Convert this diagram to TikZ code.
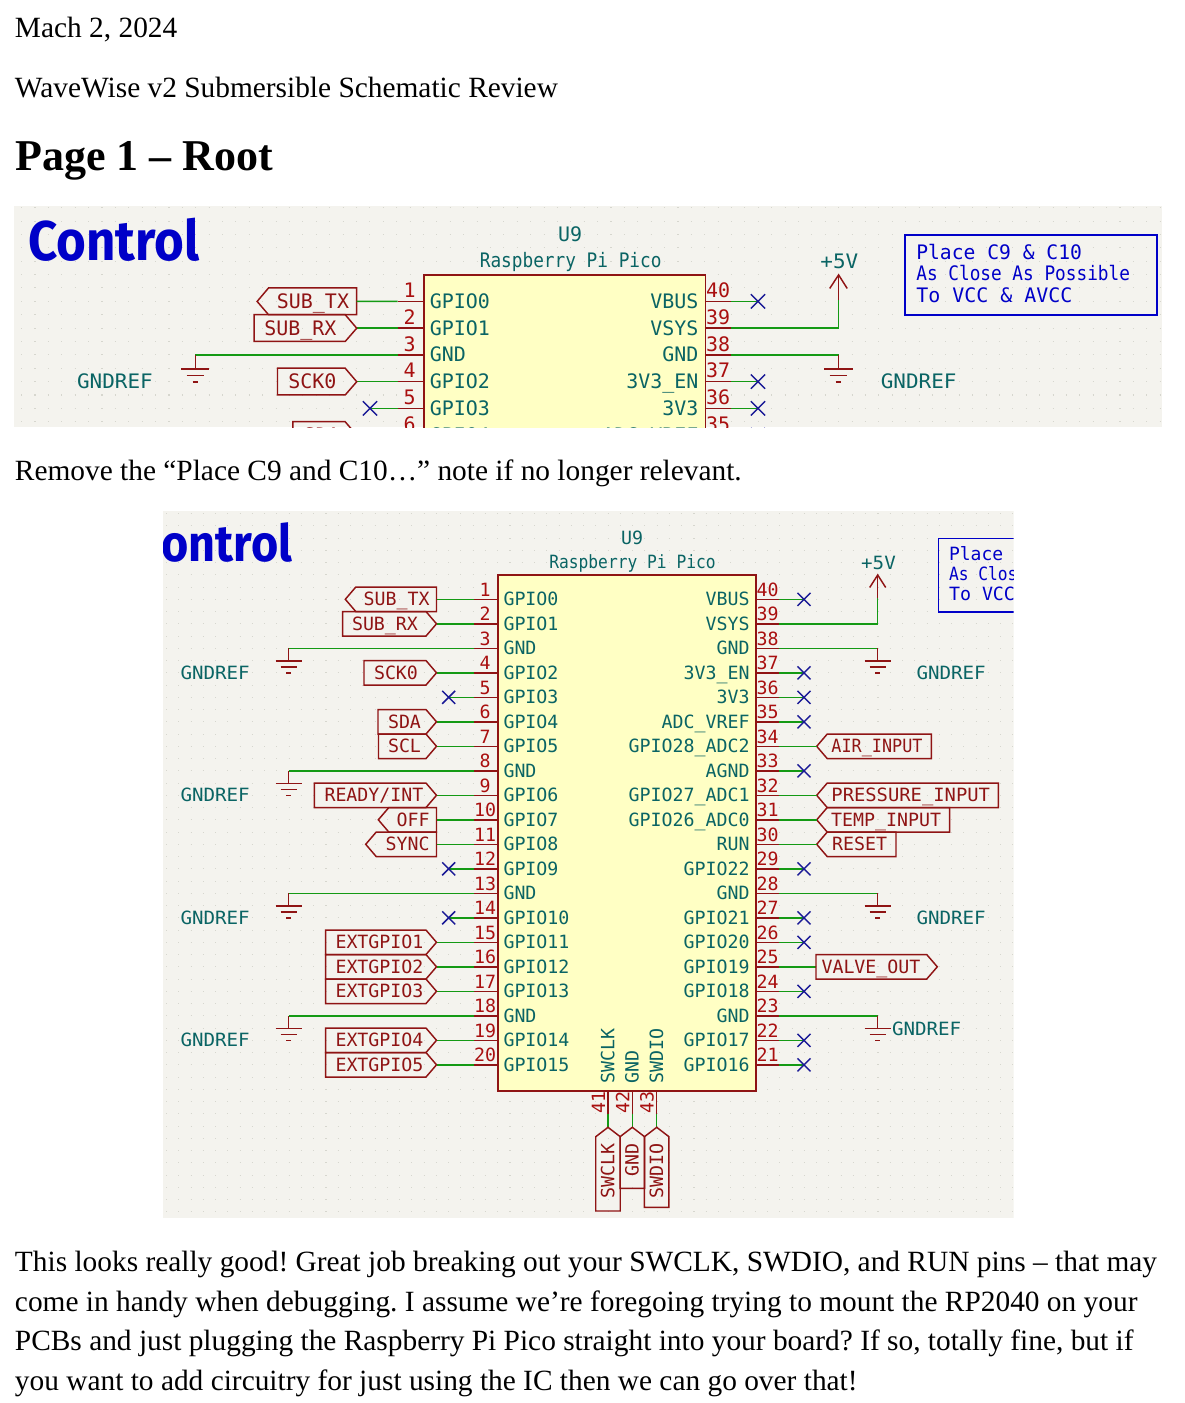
\documentclass[tikz,border=0pt]{standalone}
\usepackage{fontspec}
\usepackage{graphicx}
\setmainfont{Liberation Serif}
\newfontfamily\kifont{DejaVu Sans Mono}
\newfontfamily\ctlfont{Fira Sans}
\frenchspacing
\definecolor{panelbg}{HTML}{F4F3EE}
\definecolor{griddot}{HTML}{D6D6CE}
\definecolor{wirecol}{HTML}{149A14}
\definecolor{pincol}{HTML}{8F1414}
\definecolor{numcol}{HTML}{A90F0F}
\definecolor{namecol}{HTML}{0A6464}
\definecolor{boxfill}{HTML}{FFFFC4}
\definecolor{ncol}{HTML}{1A1A96}
\definecolor{notecol}{HTML}{0000C8}
\tikzset{
 x=0.75pt,y=-0.75pt,
 wirel/.style={draw=wirecol,line width=1.15pt},
 pinl/.style={draw=pincol,line width=1.1pt},
 sigl/.style={draw=pincol,line width=1.1pt,line join=miter},
 ncl/.style={draw=ncol,line width=1.1pt},
 kitext/.style={font=\kifont\fontsize{13.7pt}{16pt}\selectfont,inner sep=0pt,outer sep=0pt},
 pinnum/.style={kitext,text=numcol,anchor=base},
 pinname/.style={kitext,text=namecol},
 sigtext/.style={kitext,text=pincol},
 bodytext/.style={font=\fontsize{22.03pt}{26pt}\selectfont,anchor=base west,inner sep=0pt,text=black},
}
\newcommand\setY[1]{\pgfmathsetmacro\Y{599.3+24.5*(#1-1)}}
% left pin: number, row, name
\newcommand\pinLeft[3]{\setY{#2}
 \coordinate (\pfx p#1) at (497.3,\Y);
 \coordinate (\pfx q#1) at (474,\Y);
 \draw[pinl] (\pfx p#1) -- (\pfx q#1);
 \node[pinnum] (\pfx n#1) at (485,{\Y-3.3}) {#1};
 \node[pinname,anchor=base west] (\pfx t#1) at (503.5,{\Y+6.4}) {#3};}
\newcommand\pinRight[3]{\setY{#2}
 \coordinate (\pfx p#1) at (755.3,\Y);
 \coordinate (\pfx q#1) at (779,\Y);
 \draw[pinl] (\pfx p#1) -- (\pfx q#1);
 \node[pinnum] (\pfx n#1) at (767.5,{\Y-3.3}) {#1};
 \node[pinname,anchor=base east] (\pfx t#1) at (749.5,{\Y+6.4}) {#3};}
% no-connect: pin number, row, x
\newcommand\noconn[3]{\setY{#2}
 \coordinate (\pfx x#1) at (#3,\Y);
 \draw[wirel] (\pfx q#1) -- (\pfx x#1);
 \draw[ncl] (#3-6.5,\Y-6.5) -- (#3+6.5,\Y+6.5) (#3-6.5,\Y+6.5) -- (#3+6.5,\Y-6.5);}
% ground: pin number, row, x
\newcommand\gndsym[3]{\setY{#2}
 \coordinate (\pfx g#1) at (#3,\Y);
 \coordinate (\pfx h#1) at (#3,\Y+12.8);
 \draw[wirel] (\pfx q#1) -- (\pfx g#1);
 \draw[pinl] (\pfx g#1) -- (\pfx h#1);
 \draw[pinl] (#3-13,\Y+12.8) -- (#3+13,\Y+12.8) (#3-8,\Y+18.8) -- (#3+8,\Y+18.8) (#3-2.5,\Y+24.8) -- (#3+2.5,\Y+24.8);}
% signal pointing right: pin, row, xleft, xtip, text, textx
\newcommand\sigRight[6]{\setY{#2}
 \coordinate (\pfx s#1) at (#4,\Y);
 \draw[wirel] (\pfx q#1) -- (\pfx s#1);
 \draw[sigl] (#3,\Y-12.25) -- (#4-10.5,\Y-12.25) -- (\pfx s#1) -- (#4-10.5,\Y+12.25) -- (#3,\Y+12.25) -- cycle;
 \node[sigtext,anchor=base west] (\pfx l#1) at (#6,{\Y+6.4}) {#5};}
% signal pointing left: pin, row, xtip, xright, text, textx(east)
\newcommand\sigLeft[6]{\setY{#2}
 \coordinate (\pfx s#1) at (#3,\Y);
 \draw[sigl] (#4,\Y-12.25) -- (#3+10.5,\Y-12.25) -- (\pfx s#1) -- (#3+10.5,\Y+12.25) -- (#4,\Y+12.25) -- cycle;
 \node[sigtext,anchor=base east] (\pfx l#1) at (#6,{\Y+6.4}) {#5};}
\newcommand\gndname[3]{\node[pinname,anchor=base west] (\pfx r#1) at #2 {\scalebox{1.05}[1]{#3}};}
% whole schematic: prefix, last grid row, dash factor
\newcommand\schem[3]{\def\pfx{#1}
 \foreach \k in {-8,...,#2}{
  \draw[griddot,line width=0.8pt,dash pattern=on 0.8pt off {9.2*#3-0.8}pt]
   (129.2,{599.3+12.25*\k}) -- (1200,{599.3+12.25*\k});}
 \node[font=\ctlfont\bfseries\fontsize{40pt}{44pt}\selectfont,text=notecol,anchor=base west,inner sep=0pt] (\pfx ctl) at (135.5,561.5) {\scalebox{.876}[.96]{Control}};
 \node[pinname,anchor=center] (\pfx u) at (632,538) {U9};
 \node[pinname,anchor=center] (\pfx v) at (632.5,563) {\scalebox{.89}[1]{Raspberry Pi Pico}};
 \node[pinname,anchor=center] (\pfx five) at (878.5,562.5) {\scalebox{1.05}[1]{+5V}};
 \node[draw=notecol,line width=1.1pt,minimum width=173pt,minimum height=55pt,anchor=north west,inner sep=0pt] (\pfx note) at (938,537.7) {};
 \foreach \ty/\tsc/\tt in {554/.985/Place C9 \& C10,573.5/.89/As Close As Possible,593.5/1/To VCC \& AVCC}{
  \node[kitext,text=notecol,anchor=west] at (949,\ty) {\scalebox{\tsc}[1]{\tt}};}
 \node[draw=pincol,fill=boxfill,line width=1.1pt,minimum width=193.5pt,minimum height=387pt,anchor=north west,inner sep=0pt] (\pfx box) at (497.3,574.3) {};
 \pinLeft{1}{1}{GPIO0}\pinLeft{2}{2}{GPIO1}\pinLeft{3}{3}{GND}\pinLeft{4}{4}{GPIO2}\pinLeft{5}{5}{GPIO3}
 \pinLeft{6}{6}{GPIO4}\pinLeft{7}{7}{GPIO5}\pinLeft{8}{8}{GND}\pinLeft{9}{9}{GPIO6}\pinLeft{10}{10}{GPIO7}
 \pinLeft{11}{11}{GPIO8}\pinLeft{12}{12}{GPIO9}\pinLeft{13}{13}{GND}\pinLeft{14}{14}{GPIO10}\pinLeft{15}{15}{GPIO11}
 \pinLeft{16}{16}{GPIO12}\pinLeft{17}{17}{GPIO13}\pinLeft{18}{18}{GND}\pinLeft{19}{19}{GPIO14}\pinLeft{20}{20}{GPIO15}
 \pinRight{40}{1}{VBUS}\pinRight{39}{2}{VSYS}\pinRight{38}{3}{GND}\pinRight{37}{4}{3V3\_EN}\pinRight{36}{5}{3V3}
 \pinRight{35}{6}{ADC\_VREF}\pinRight{34}{7}{GPIO28\_ADC2}\pinRight{33}{8}{AGND}\pinRight{32}{9}{GPIO27\_ADC1}\pinRight{31}{10}{GPIO26\_ADC0}
 \pinRight{30}{11}{RUN}\pinRight{29}{12}{GPIO22}\pinRight{28}{13}{GND}\pinRight{27}{14}{GPIO21}\pinRight{26}{15}{GPIO20}
 \pinRight{25}{16}{GPIO19}\pinRight{24}{17}{GPIO18}\pinRight{23}{18}{GND}\pinRight{22}{19}{GPIO17}\pinRight{21}{20}{GPIO16}
 % left signals
 \sigLeft{1}{1}{345.3}{436.5}{SUB\_TX}{429.5}
 \draw[wirel] (\pfx q1) -- (436.5,599.3);
 \sigRight{2}{2}{342.7}{436.5}{SUB\_RX}{352}
 \sigRight{4}{4}{364}{436.5}{SCK0}{374}
 \sigRight{6}{6}{378}{436.5}{SDA}{388}
 \sigRight{7}{7}{378.5}{436.5}{SCL}{388}
 \sigRight{9}{9}{314.3}{436.5}{READY/INT}{324.5}
 \sigLeft{10}{10}{378.3}{436.5}{OFF}{429.5}
 \draw[wirel] (\pfx q10) -- (436.5,819.8);
 \sigLeft{11}{11}{365.7}{436.5}{SYNC}{429.5}
 \draw[wirel] (\pfx q11) -- (436.5,844.3);
 \sigRight{15}{15}{325.7}{436.5}{EXTGPIO1}{335.5}
 \sigRight{16}{16}{325.7}{436.5}{EXTGPIO2}{335.5}
 \sigRight{17}{17}{325.7}{436.5}{EXTGPIO3}{335.5}
 \sigRight{19}{19}{325.7}{436.5}{EXTGPIO4}{335.5}
 \sigRight{20}{20}{325.7}{436.5}{EXTGPIO5}{335.5}
 \noconn{5}{5}{448.7}\noconn{12}{12}{448.7}\noconn{14}{14}{448.7}
 \gndsym{3}{3}{288.7}\gndsym{8}{8}{288.7}\gndsym{13}{13}{288.7}\gndsym{18}{18}{288.7}
 \gndname{3}{(180.5,679.3)}{GNDREF}\gndname{8}{(180.5,801.8)}{GNDREF}\gndname{13}{(180.5,924.3)}{GNDREF}\gndname{18}{(180.5,1046.8)}{GNDREF}
 % right signals
 \noconn{40}{1}{804}\noconn{37}{4}{804}\noconn{36}{5}{804}\noconn{35}{6}{804}\noconn{33}{8}{804}
 \noconn{29}{12}{804}\noconn{27}{14}{804}\noconn{26}{15}{804}\noconn{24}{17}{804}\noconn{22}{19}{804}\noconn{21}{20}{804}
 \sigLeft{34}{7}{816.7}{931.3}{\scalebox{.92}[1]{AIR\_INPUT}}{922.5}
 \draw[wirel] (\pfx q34) -- (\pfx s34);
 \sigLeft{32}{9}{816.7}{998.3}{\scalebox{1.03}[1]{PRESSURE\_INPUT}}{990}
 \draw[wirel] (\pfx q32) -- (\pfx s32);
 \sigLeft{31}{10}{816.7}{949.7}{TEMP\_INPUT}{941}
 \draw[wirel] (\pfx q31) -- (\pfx s31);
 \sigLeft{30}{11}{816.7}{896}{RESET}{887}
 \draw[wirel] (\pfx q30) -- (\pfx s30);
 % VALVE_OUT
 \setY{16}
 \coordinate (\pfx s25) at (816,\Y);
 \draw[wirel] (\pfx q25) -- (\pfx s25);
 \draw[sigl] (816,\Y-12.25) -- (926.7,\Y-12.25) -- (937.3,\Y) -- (926.7,\Y+12.25) -- (816,\Y+12.25) -- cycle;
 \node[sigtext,anchor=base west] (\pfx l25) at (821.5,{\Y+6.4}) {VALVE\_OUT};
 % +5V
 \setY{2}
 \coordinate (\pfx fa) at (877.7,\Y);
 \coordinate (\pfx fb) at (877.7,598.3);
 \coordinate (\pfx fc) at (877.7,575);
 \draw[wirel] (\pfx q39) -- (\pfx fa) -- (\pfx fb);
 \draw[pinl] (\pfx fb) -- (\pfx fc);
 \draw[pinl] (869.7,587.5) -- (\pfx fc) -- (885.7,587.5);
 % right grounds
 \gndsym{38}{3}{877.7}\gndsym{28}{13}{877.7}\gndsym{23}{18}{877.7}
 \gndname{38}{(916.5,679.3)}{GNDREF}\gndname{28}{(916.5,924.3)}{GNDREF}\gndname{23}{(892,1035)}{GNDREF}
 % bottom pins
 \foreach \n/\px/\nm/\bot in {41/608/SWCLK/1211,42/632.3/GND/1188.3,43/656.7/SWDIO/1207.3}{
  \coordinate (\pfx p\n) at (\px,1090);
  \coordinate (\pfx q\n) at (\px,1114);
  \coordinate (\pfx s\n) at (\px,1127.3);
  \draw[wirel] (\pfx q\n) -- (\pfx s\n);
  \draw[pinl] (\pfx p\n) -- (\pfx q\n);
  \draw[sigl] (\px-12.25,\bot) -- (\px-12.25,1136.7) -- (\pfx s\n) -- (\px+12.25,1136.7) -- (\px+12.25,\bot) -- cycle;
  \node[pinnum,rotate=90] (\pfx n\n) at (\px-3,1102.7) {\n};
  \node[pinname,rotate=90,anchor=base west] (\pfx t\n) at (\px+6.3,1083.5) {\nm};
  \node[sigtext,rotate=90,anchor=base east] (\pfx l\n) at (\px+6.3,1143) {\nm};
 }
}
\begin{document}
\begin{tikzpicture}
\useasboundingbox (0,0) rectangle (1185,1403);
\fill[white] (0,0) rectangle (1185,1403);
\node[bodytext] (t1) at (14.7,37) {Mach 2, 2024};
\node[bodytext] (t2) at (14.7,97) {WaveWise v2 Submersible Schematic Review};
\node[bodytext,font=\bfseries\fontsize{33pt}{38pt}\selectfont] (t3) at (15,170) {Page 1 – Root};
\node[bodytext] (t4) at (14.7,480) {Remove the “Place C9 and C10…” note if no longer relevant.};
\node[bodytext] (t5) at (14.7,1271) {This looks really good! Great job breaking out your SWCLK, SWDIO, and RUN pins – that may};
\node[bodytext] (t6) at (14.7,1311) {come in handy when debugging. I assume we’re foregoing trying to mount the RP2040 on your};
\node[bodytext] (t7) at (14.7,1350) {PCBs and just plugging the Raspberry Pi Pico straight into your board? If so, totally fine, but if};
\node[bodytext] (t8) at (14.7,1390) {you want to add circuitry for just using the IC then we can go over that!};
\begin{scope}
 \clip (14,206) rectangle (1162,427);
 \fill[panelbg] (14,206) rectangle (1162,427);
 \begin{scope}[shift={(-120,-353.1)},scale=1.092,transform shape]
  \schem{a}{11}{1.092}
 \end{scope}
\end{scope}
\begin{scope}
 \clip (163,511) rectangle (1013.5,1218);
 \fill[panelbg] (163,511) rectangle (1013.5,1218);
 \schem{b}{52}{1}
\end{scope}
\end{tikzpicture}
\end{document}
